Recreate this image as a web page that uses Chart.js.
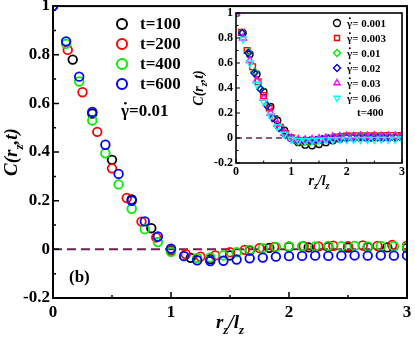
<!doctype html>
<html>
<head>
<script src="https://cdnjs.cloudflare.com/ajax/libs/Chart.js/4.4.1/chart.umd.min.js"></script>
<style>
  body { margin: 0; background: #fff; }
  #wrap { position: relative; width: 415px; height: 341px; }
  #c1 { position: absolute; left: 0; top: 0; }
  #c2 { position: absolute; left: 190px; top: 6px; }
</style>
</head>
<body>
<div id="wrap">
  <canvas id="c1" width="415" height="341"></canvas>
  <canvas id="c2" width="222" height="194"></canvas>
</div>
<script>
// ---- main panel data (t series, gamma dot = 0.01) ----
const mainLabels = ['t=100', 't=200', 't=400', 't=600'];
const xT100 = [0, 0.167, 0.333, 0.5, 0.667, 0.833, 1, 1.167, 1.333, 1.5, 1.667, 1.833, 2, 2.167, 2.333, 2.5, 2.667, 2.833, 3];
const yT100 = [1.0, 0.78, 0.558, 0.368, 0.205, 0.087, -0.007, -0.035, -0.04, -0.025, -0.005, 0.006, 0.01, 0.008, 0.01, 0.007, 0.009, 0.008, 0.006];
const xT200 = [0, 0.125, 0.25, 0.375, 0.5, 0.625, 0.75, 0.875, 1, 1.125, 1.25, 1.375, 1.5, 1.625, 1.75, 1.875, 2, 2.125, 2.25, 2.375, 2.5, 2.625, 2.75, 2.875, 3];
const yT200 = [1.0, 0.82, 0.646, 0.483, 0.333, 0.211, 0.114, 0.049, 0.0, -0.02, -0.03, -0.025, -0.012, -0.002, 0.005, 0.01, 0.012, 0.013, 0.012, 0.015, 0.013, 0.016, 0.014, 0.018, 0.015];
const xT400 = [0, 0.111, 0.222, 0.333, 0.444, 0.556, 0.667, 0.778, 0.889, 1, 1.111, 1.222, 1.333, 1.444, 1.556, 1.667, 1.778, 1.889, 2, 2.111, 2.222, 2.333, 2.444, 2.556, 2.667, 2.778, 2.889, 3];
const yT400 = [1.0, 0.845, 0.69, 0.53, 0.395, 0.267, 0.167, 0.083, 0.03, -0.01, -0.028, -0.035, -0.033, -0.025, -0.012, -0.002, 0.005, 0.01, 0.012, 0.013, 0.012, 0.014, 0.013, 0.014, 0.012, 0.014, 0.013, 0.01];
const xT600 = xT400;
const yT600 = [1.0, 0.855, 0.71, 0.565, 0.43, 0.31, 0.2, 0.115, 0.053, 0.003, -0.028, -0.045, -0.048, -0.047, -0.042, -0.037, -0.034, -0.03, -0.028, -0.027, -0.026, -0.027, -0.026, -0.025, -0.026, -0.025, -0.026, -0.025];

// ---- inset data (t = 400, different shear rates) ----
const insetLabels = ['\u03B3\u0307= 0.001', '\u03B3\u0307= 0.003', '\u03B3\u0307= 0.01', '\u03B3\u0307= 0.02', '\u03B3\u0307= 0.03', '\u03B3\u0307= 0.06'];
const xIn8 = xT200;
const xIn10 = [0, 0.1, 0.2, 0.3, 0.4, 0.5, 0.6, 0.7, 0.8, 0.9, 1, 1.1, 1.2, 1.3, 1.4, 1.5, 1.6, 1.7, 1.8, 1.9, 2, 2.1, 2.2, 2.3, 2.4, 2.5, 2.6, 2.7, 2.8, 2.9, 3];
const xIn9 = xT400;
const yG001 = [1.0, 0.84, 0.67, 0.51, 0.37, 0.25, 0.14, 0.06, 0.0, -0.035, -0.055, -0.06, -0.05, -0.035, -0.02, -0.008, 0.0, 0.003, 0.005, 0.004, 0.006, 0.005, 0.006, 0.004, 0.005];
const yG003 = [1.0, 0.845, 0.70, 0.57, 0.45, 0.34, 0.24, 0.155, 0.085, 0.035, 0.0, -0.02, -0.028, -0.03, -0.026, -0.018, -0.008, 0.0, 0.008, 0.012, 0.015, 0.016, 0.018, 0.017, 0.018, 0.02, 0.018, 0.019, 0.02, 0.018, 0.02];
const yG01 = yT400;
const yG02 = [1.0, 0.84, 0.68, 0.52, 0.39, 0.26, 0.16, 0.08, 0.025, -0.01, -0.02, -0.022, -0.02, -0.015, -0.01, -0.005, 0.0, 0.002, 0.003, 0.002, 0.004, 0.003, 0.002, 0.004, 0.003, 0.002, 0.003, 0.004];
const yG03 = [1.0, 0.80, 0.62, 0.46, 0.32, 0.2, 0.11, 0.04, 0.0, -0.012, -0.015, -0.012, -0.005, 0.0, 0.008, 0.012, 0.015, 0.012, 0.016, 0.014, 0.018, 0.015, 0.017, 0.016, 0.018];
const yG06 = [1.0, 0.79, 0.6, 0.43, 0.29, 0.18, 0.09, 0.03, -0.01, -0.02, -0.022, -0.02, -0.018, -0.015, -0.014, -0.012, -0.012, -0.011, -0.012, -0.01, -0.011, -0.01, -0.011, -0.01, -0.01];

const zeroX = [0, 3];
const zeroY = [0, 0];

const serif = "'Liberation Serif', 'Times New Roman', serif";
const dashColor = '#6a2050';

function pts(xs, ys) { return xs.map((x, i) => ({ x: x, y: ys[i] })); }
function fmt(v) { let r = Math.round(v * 10) / 10; return r === 0 ? '0' : String(r); }

function drawSub(ctx, parts, x, y, size, rot) {
  ctx.save();
  ctx.translate(x, y);
  if (rot) ctx.rotate(-Math.PI / 2);
  const big = 'italic bold ' + size + 'px ' + serif;
  const small = 'italic bold ' + Math.round(size * 0.68) + 'px ' + serif;
  let w = 0;
  parts.forEach(p => { ctx.font = p[1] ? small : big; w += ctx.measureText(p[0]).width; });
  let cx = -w / 2;
  ctx.textAlign = 'left'; ctx.textBaseline = 'alphabetic'; ctx.fillStyle = '#000';
  parts.forEach(p => {
    ctx.font = p[1] ? small : big;
    ctx.fillText(p[0], cx, p[1] ? size * 0.32 : 0);
    cx += ctx.measureText(p[0]).width;
  });
  ctx.restore();
}

// text with a dotted gamma: the combining dot is drawn by hand above the gamma
function drawLabel(ctx, text, x, y, size) {
  if (text.indexOf('\u0307') < 0) { ctx.fillText(text, x, y); return; }
  const g = text.charAt(0), rest = text.slice(2);
  ctx.fillText(g, x, y);
  const gw = ctx.measureText(g).width;
  ctx.beginPath();
  ctx.arc(x + gw * 0.55, y - size * 0.52, Math.max(1, size * 0.075), 0, Math.PI * 2);
  ctx.fill();
  ctx.fillText(rest, x + gw, y);
}

function marker(ctx, style, x, y, r, color, lw) {
  ctx.save();
  ctx.strokeStyle = color; ctx.lineWidth = lw;
  ctx.beginPath();
  if (style === 'circle') ctx.arc(x, y, r, 0, Math.PI * 2);
  else if (style === 'rect') { let s = r * Math.SQRT1_2; ctx.rect(x - s, y - s, 2 * s, 2 * s); }
  else if (style === 'rectRot') { ctx.moveTo(x, y - r); ctx.lineTo(x + r, y); ctx.lineTo(x, y + r); ctx.lineTo(x - r, y); ctx.closePath(); }
  else if (style === 'triUp') { ctx.moveTo(x, y - r); ctx.lineTo(x + r * 0.866, y + r / 2); ctx.lineTo(x - r * 0.866, y + r / 2); ctx.closePath(); }
  else if (style === 'triDown') { ctx.moveTo(x, y + r); ctx.lineTo(x + r * 0.866, y - r / 2); ctx.lineTo(x - r * 0.866, y - r / 2); ctx.closePath(); }
  ctx.stroke();
  ctx.restore();
}

function decor(cfg) {
  return {
    id: 'decor',
    afterDraw(chart) {
      const ctx = chart.ctx, a = chart.chartArea;
      const xs = chart.scales.x, ys = chart.scales.y;
      ctx.save();
      ctx.strokeStyle = '#000';
      ctx.lineWidth = cfg.tickW;
      ctx.beginPath();
      for (let v = 0; v <= 3.001; v += 0.5) {
        const px = xs.getPixelForValue(v);
        const len = Math.abs(v - Math.round(v)) < 0.01 ? cfg.major : cfg.minor;
        ctx.moveTo(px, a.bottom); ctx.lineTo(px, a.bottom - len);
      }
      for (let k = -2; k <= 10; k++) {
        const py = ys.getPixelForValue(k / 10);
        const len = k % 2 === 0 ? cfg.major : cfg.minor;
        ctx.moveTo(a.left, py); ctx.lineTo(a.left + len, py);
      }
      ctx.stroke();
      ctx.lineWidth = cfg.frameW;
      ctx.strokeRect(a.left, a.top, a.right - a.left, a.bottom - a.top);
      ctx.restore();

      drawSub(ctx, [['r', 0], ['z', 1], ['/l', 0], ['z', 1]], (a.left + a.right) / 2, cfg.xTitleY, cfg.titleSize, false);
      drawSub(ctx, [['C(r', 0], ['z', 1], [',t)', 0]], cfg.yTitleX, (a.top + a.bottom) / 2, cfg.titleSize, true);

      ctx.save();
      ctx.fillStyle = '#000';
      ctx.textAlign = 'left'; ctx.textBaseline = 'middle';
      ctx.font = 'bold ' + cfg.legSize + 'px ' + serif;
      cfg.legend.forEach((e, i) => {
        const y = cfg.legY + i * cfg.legStep;
        marker(ctx, e.style, cfg.legMarkX, y, cfg.legR, e.color, cfg.legLw);
        drawLabel(ctx, e.label, cfg.legTextX, y + 1, cfg.legSize);
      });
      cfg.extra.forEach(t => drawLabel(ctx, t.text, t.x, t.y, cfg.legSize));
      ctx.restore();
    }
  };
}

function scaleOpts(min, max, step, size, pad, dim, isX) {
  return {
    type: 'linear', min: min, max: max,
    grid: { display: false, drawTicks: false },
    border: { display: false },
    ticks: {
      stepSize: step, padding: pad, color: '#000', maxRotation: 0,
      font: { family: serif, size: size, weight: 'bold' },
      callback: fmt
    },
    afterFit(s) {
      if (isX) s.height = dim; else s.width = dim;
      s.paddingTop = 0; s.paddingBottom = 0; s.paddingLeft = 0; s.paddingRight = 0;
    }
  };
}

function circleSet(label, xs, ys, color, order) {
  return {
    label: label, data: pts(xs, ys), order: order,
    showLine: false, pointStyle: 'circle', pointRadius: 4.3, pointBorderWidth: 1.8,
    pointBorderColor: color, pointBackgroundColor: 'rgba(0,0,0,0)', borderColor: color
  };
}

function dashSet(w, dash) {
  return {
    label: 'zero', data: pts(zeroX, zeroY), order: 10, showLine: true,
    borderColor: dashColor, borderWidth: w, borderDash: dash, pointRadius: 0
  };
}

const mainColors = ['#000000', '#ff0000', '#00ee00', '#0000ff'];

new Chart(document.getElementById('c1'), {
  type: 'scatter',
  data: {
    datasets: [
      circleSet(mainLabels[0], xT100, yT100, mainColors[0], 4),
      circleSet(mainLabels[1], xT200, yT200, mainColors[1], 3),
      circleSet(mainLabels[2], xT400, yT400, mainColors[2], 2),
      circleSet(mainLabels[3], xT600, yT600, mainColors[3], 1),
      dashSet(2, [9, 5])
    ]
  },
  options: {
    responsive: false, animation: false,
    layout: { padding: { top: 5, right: 8, left: 0, bottom: 0 } },
    plugins: { legend: { display: false }, tooltip: { enabled: false } },
    scales: {
      x: scaleOpts(0, 3, 1, 17, 4, 43, true),
      y: scaleOpts(-0.2, 1, 0.2, 17, 3, 53, false)
    }
  },
  plugins: [decor({
    tickW: 1.5, frameW: 2, major: 6, minor: 3,
    xTitleY: 328, yTitleX: 17, titleSize: 19,
    legSize: 17, legY: 24, legStep: 20, legMarkX: 122, legR: 5, legLw: 2, legTextX: 140,
    legend: mainLabels.map((l, i) => ({ label: l, color: mainColors[i], style: 'circle' })),
    extra: [{ text: '\u03B3\u0307=0.01', x: 121, y: 112 }, { text: '(b)', x: 69, y: 278 }]
  })]
});

const insetColors = ['#000000', '#ff0000', '#00ee00', '#0000ff', '#ff00ff', '#00ffff'];
const insetStyles = ['circle', 'rect', 'rectRot', 'rectRot', 'triUp', 'triDown'];

function insetSet(label, xs, ys, color, style, rot, r, order) {
  return {
    label: label, data: pts(xs, ys), order: order,
    showLine: false, pointStyle: style, pointRotation: rot, pointRadius: r, pointBorderWidth: 1.4,
    pointBorderColor: color, pointBackgroundColor: 'rgba(0,0,0,0)', borderColor: color
  };
}

new Chart(document.getElementById('c2'), {
  type: 'scatter',
  data: {
    datasets: [
      insetSet(insetLabels[0], xIn8, yG001, insetColors[0], 'circle', 0, 3.2, 6),
      insetSet(insetLabels[1], xIn10, yG003, insetColors[1], 'rect', 0, 4, 5),
      insetSet(insetLabels[2], xIn9, yG01, insetColors[2], 'rectRot', 0, 3.5, 4),
      insetSet(insetLabels[3], xIn9, yG02, insetColors[3], 'rectRot', 0, 3.5, 3),
      insetSet(insetLabels[4], xIn8, yG03, insetColors[4], 'triangle', 0, 4, 2),
      insetSet(insetLabels[5], xIn8, yG06, insetColors[5], 'triangle', 180, 4, 1),
      dashSet(1.5, [6, 4])
    ]
  },
  options: {
    responsive: false, animation: false,
    layout: { padding: { top: 7, right: 10, left: 0, bottom: 0 } },
    plugins: { legend: { display: false }, tooltip: { enabled: false } },
    scales: {
      x: scaleOpts(0, 3, 1, 12, 2, 37, true),
      y: scaleOpts(-0.2, 1, 0.2, 12, 3, 46, false)
    }
  },
  plugins: [decor({
    tickW: 1, frameW: 1.6, major: 4, minor: 2.5,
    xTitleY: 179, yTitleX: 13, titleSize: 14,
    legSize: 11, legY: 17, legStep: 15, legMarkX: 147, legR: 3.5, legLw: 1.4, legTextX: 157,
    legend: insetLabels.map((l, i) => ({ label: l, color: insetColors[i], style: insetStyles[i] })),
    extra: [{ text: 't=400', x: 167, y: 107 }]
  })]
});
</script>
</body>
</html>
